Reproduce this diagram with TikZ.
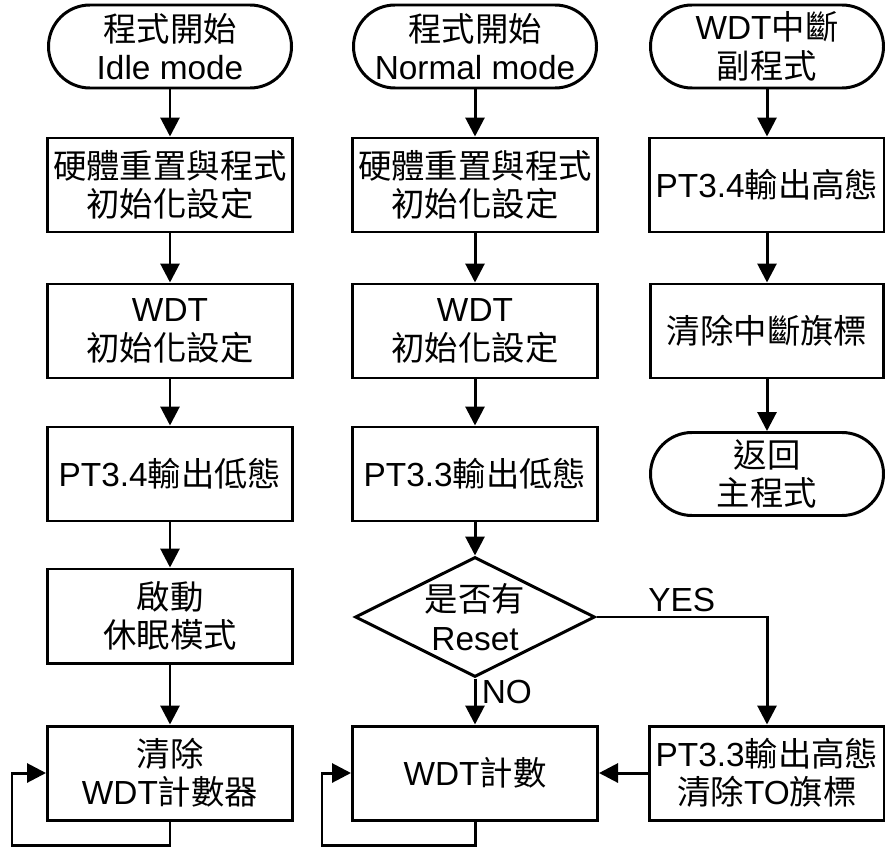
\documentclass[tikz,border=0pt]{standalone}
\usepackage{fontspec}
\setmainfont{Liberation Sans}
\newfontfamily\cjk{Noto Sans CJK TC}
\usetikzlibrary{arrows.meta,shapes.geometric,positioning}

\begin{document}
\begin{tikzpicture}[
    x=1cm,y=1cm,
    term/.style = {rectangle,rounded corners=0.83cm,draw,line width=1.7pt,align=center,
                   font=\fontsize{19}{21.8}\selectfont,minimum width=4.86cm,minimum height=1.66cm},
    proc/.style = {rectangle,draw,line width=1.7pt,align=center,
                   font=\fontsize{19}{21.8}\selectfont,minimum width=4.9cm,minimum height=1.88cm},
    ask/.style  = {diamond,draw,line width=1.7pt,align=center,aspect=2,inner sep=0pt,
                   font=\fontsize{19}{21.8}\selectfont,minimum width=4.8cm,minimum height=2.4cm},
    fl/.style   = {-{Triangle[length=0.38cm,width=0.38cm]},line width=1.7pt},
    lb/.style   = {font=\fontsize{19}{21.8}\selectfont,inner sep=2pt},
  ]

  \useasboundingbox (0,0) rectangle (17.7,-17.04);

  % Idle mode
  \node[term] (ist) at (3.4,-0.93)  {{\cjk 程式開始}\\Idle mode};
  \node[proc] (irs) at (3.4,-3.7)   {{\cjk 硬體重置與程式}\\{\cjk 初始化設定}};
  \node[proc] (iwd) at (3.4,-6.62)  {WDT\\{\cjk 初始化設定}};
  \node[proc] (ipt) at (3.4,-9.48)  {PT3.4{\cjk 輸出低態}};
  \node[proc] (isl) at (3.4,-12.32) {{\cjk 啟動}\\{\cjk 休眠模式}};
  \node[proc] (icl) at (3.4,-15.46) {{\cjk 清除}\\WDT{\cjk 計數器}};
  \coordinate (iloop) at (0.24,-16.9);

  % Normal mode
  \node[term] (nst) at (9.5,-0.93)  {{\cjk 程式開始}\\Normal mode};
  \node[proc] (nrs) at (9.5,-3.7)   {{\cjk 硬體重置與程式}\\{\cjk 初始化設定}};
  \node[proc] (nwd) at (9.5,-6.62)  {WDT\\{\cjk 初始化設定}};
  \node[proc] (npt) at (9.5,-9.48)  {PT3.3{\cjk 輸出低態}};
  \node[ask]  (nck) at (9.5,-12.34) {{\cjk 是否有}\\Reset};
  \node[proc] (ncn) at (9.5,-15.46) {WDT{\cjk 計數}};
  \node[proc,minimum width=4.66cm] (nhi) at (15.34,-15.46)
        {PT3.3{\cjk 輸出高態}\\{\cjk 清除}TO{\cjk 旗標}};
  \coordinate (nloop) at (6.44,-16.9);

  % WDT interrupt
  \node[term,minimum width=4.66cm] (wst) at (15.34,-0.93) {WDT{\cjk 中斷}\\{\cjk 副程式}};
  \node[proc,minimum width=4.66cm] (wpt) at (15.34,-3.7)  {PT3.4{\cjk 輸出高態}};
  \node[proc,minimum width=4.66cm] (wcl) at (15.34,-6.62) {{\cjk 清除中斷旗標}};
  \node[term,minimum width=4.66cm] (wrt) at (15.34,-9.48) {{\cjk 返回}\\{\cjk 主程式}};

  \draw[fl] (ist) -- (irs);
  \draw[fl] (irs) -- (iwd);
  \draw[fl] (iwd) -- (ipt);
  \draw[fl] (ipt) -- (isl);
  \draw[fl] (isl) -- (icl);
  \draw[fl] (icl.south) |- (iloop) |- (icl.west);

  \draw[fl] (nst) -- (nrs);
  \draw[fl] (nrs) -- (nwd);
  \draw[fl] (nwd) -- (npt);
  \draw[fl] (npt) -- (nck);
  \draw[fl] (nck) -- node[lb,right,pos=0.3,inner sep=3pt] {NO} (ncn);
  \draw[fl] (nck.east) -| node[lb,above,pos=0.25] {YES} (nhi.north);
  \draw[fl] (nhi) -- (ncn);
  \draw[fl] (ncn.south) |- (nloop) |- (ncn.west);

  \draw[fl] (wst) -- (wpt);
  \draw[fl] (wpt) -- (wcl);
  \draw[fl] (wcl) -- (wrt);

\end{tikzpicture}
\end{document}
